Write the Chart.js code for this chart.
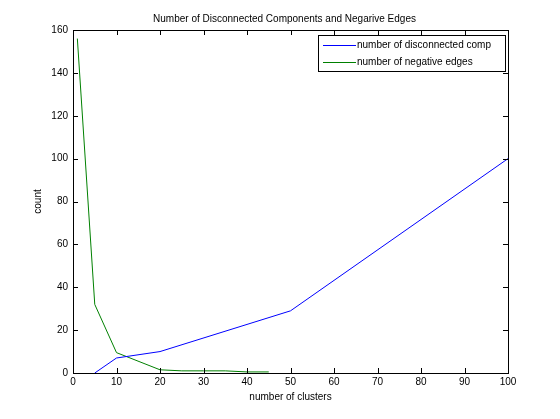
<!DOCTYPE html>
<html><head><meta charset="utf-8">
<script src="https://cdn.jsdelivr.net/npm/chart.js@4/dist/chart.umd.min.js"></script>
<style>html,body{margin:0;padding:0;background:#fff}canvas{display:block}</style>
</head><body>
<canvas id="c" width="560" height="419"></canvas>
<script>
const chartTitle = "Number of Disconnected Components and Negarive Edges";
const xTitle = "number of clusters";
const yTitle = "count";
const seriesNames = ["number of disconnected comp", "number of negative edges"];
const compClusters = [5, 10, 20, 50, 100];
const compValues = [0, 7, 10, 29, 100];
const negClusters = [1, 5, 10, 20, 25, 30, 35, 40, 45];
const negValues = [156, 32, 9.5, 1.5, 1, 1, 1, 0.5, 0.5];
const xTicks = [0, 10, 20, 30, 40, 50, 60, 70, 80, 90, 100];
const yTicks = [0, 20, 40, 60, 80, 100, 120, 140, 160];

const FONT = "'Liberation Sans', Arial, Helvetica, sans-serif";

const matlabPlugin = {
  id: 'matlab',
  afterDraw(chart) {
    const ctx = chart.ctx, a = chart.chartArea;
    const xs = chart.scales.x, ys = chart.scales.y;
    ctx.save();
    ctx.strokeStyle = '#000'; ctx.lineWidth = 1;
    ctx.strokeRect(Math.round(a.left) + 0.5, Math.round(a.top) + 0.5, Math.round(a.right - a.left), Math.round(a.bottom - a.top));
    ctx.beginPath();
    xTicks.forEach(v => {
      const px = Math.round(xs.getPixelForValue(v)) + 0.5;
      ctx.moveTo(px, a.bottom); ctx.lineTo(px, a.bottom - 5);
      ctx.moveTo(px, a.top); ctx.lineTo(px, a.top + 5);
    });
    yTicks.forEach(v => {
      const py = Math.round(ys.getPixelForValue(v)) + 0.5;
      ctx.moveTo(a.left, py); ctx.lineTo(a.left + 5, py);
      ctx.moveTo(a.right, py); ctx.lineTo(a.right - 5, py);
    });
    ctx.stroke();
    // title
    ctx.fillStyle = '#000';
    ctx.font = '10px ' + FONT;
    ctx.textAlign = 'center'; ctx.textBaseline = 'middle';
    ctx.fillText(chartTitle, (a.left + a.right) / 2 - 6, 19);
    // legend
    const lx = 318, ly = 35, lw = 187, lh = 36;
    ctx.fillStyle = '#fff';
    ctx.fillRect(lx, ly, lw, lh);
    ctx.strokeStyle = '#000';
    ctx.strokeRect(lx + 0.5, ly + 0.5, lw, lh);
    ctx.textAlign = 'left';
    chart.data.datasets.forEach((ds, i) => {
      const yy = ly + 10.5 + i * 17;
      ctx.strokeStyle = ds.borderColor;
      ctx.beginPath(); ctx.moveTo(323, yy); ctx.lineTo(356, yy); ctx.stroke();
      ctx.fillStyle = '#000';
      ctx.fillText(ds.label, 357, yy);
    });
    ctx.restore();
  }
};

new Chart(document.getElementById('c'), {
  type: 'line',
  data: {
    datasets: [
      { label: seriesNames[0], data: compClusters.map((x, i) => ({x, y: compValues[i]})), borderColor: '#0000ff', borderWidth: 1, pointRadius: 0, tension: 0, fill: false },
      { label: seriesNames[1], data: negClusters.map((x, i) => ({x, y: negValues[i]})), borderColor: '#008000', borderWidth: 1, pointRadius: 0, tension: 0, fill: false }
    ]
  },
  options: {
    responsive: false, animation: false,
    layout: { padding: { top: 30, right: 52, left: 0, bottom: 0 } },
    plugins: { legend: { display: false }, title: { display: false }, tooltip: { enabled: false } },
    scales: {
      x: {
        type: 'linear', min: 0, max: 100,
        afterFit(s) { s.height = 46; },
        afterBuildTicks(s) { s.ticks = xTicks.map(v => ({value: v})); },
        grid: { display: false, drawTicks: false },
        border: { display: false },
        ticks: { color: '#000', font: { size: 10, family: FONT }, padding: 3, maxRotation: 0, autoSkip: false },
        title: { display: true, text: xTitle, color: '#000', font: { size: 10, family: FONT }, padding: { top: 0, bottom: 16 } }
      },
      y: {
        min: 0, max: 160,
        afterFit(s) { s.width = 73; },
        afterBuildTicks(s) { s.ticks = yTicks.map(v => ({value: v})); },
        grid: { display: false, drawTicks: false },
        border: { display: false },
        ticks: { color: '#000', font: { size: 10, family: FONT }, padding: 5, autoSkip: false },
        title: { display: true, text: yTitle, color: '#000', font: { size: 10, family: FONT }, padding: { top: 32, bottom: 0 } }
      }
    }
  },
  plugins: [matlabPlugin]
});
</script>
</body></html>
